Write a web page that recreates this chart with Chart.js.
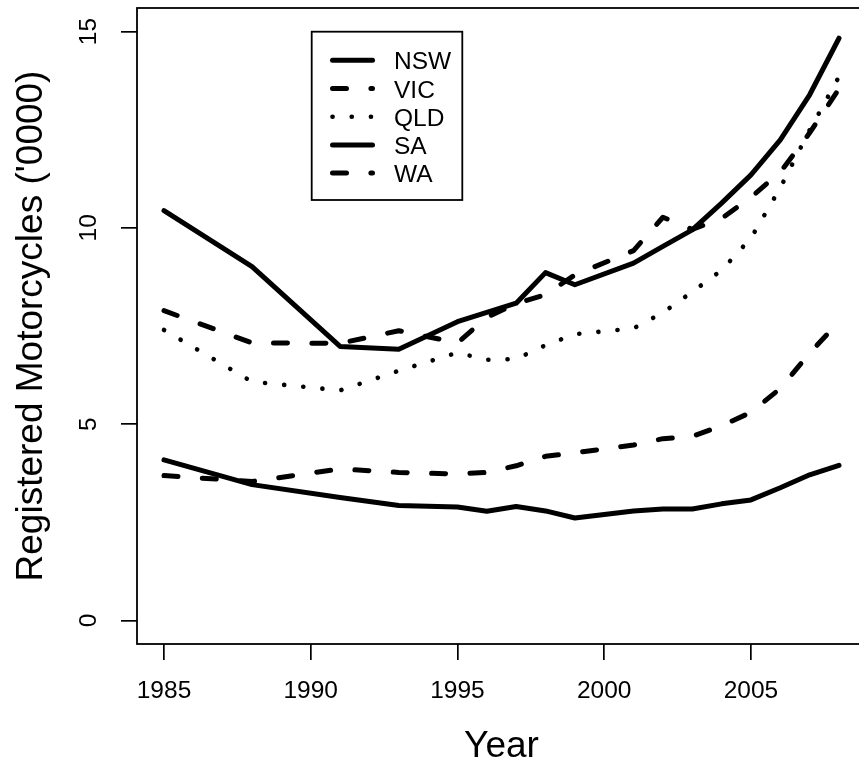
<!DOCTYPE html>
<html>
<head>
<meta charset="utf-8">
<script src="https://cdn.jsdelivr.net/npm/chart.js@4.4.0/dist/chart.umd.min.js"></script>
<style>
html, body { margin: 0; padding: 0; background: #fff; overflow: hidden; }
#wrap { width: 880px; height: 767px; }
</style>
</head>
<body>
<div id="wrap"><canvas id="grafiek" width="880" height="767"></canvas></div>
<script>
// census years (no census in 1986-87, 1989-90, 1992, 1994, 2000)
const jaren = [1985, 1988, 1991, 1993, 1995, 1996, 1997, 1998, 1999, 2001, 2002, 2003, 2004, 2005, 2006, 2007, 2008];
const nsw = [10.44, 9.01, 6.98, 6.91, 7.61, 7.85, 8.08, 8.86, 8.55, 9.10, 9.53, 9.95, 10.63, 11.35, 12.24, 13.39, 14.83];
const vic = [7.89, 7.07, 7.06, 7.38, 7.07, 7.72, 8.07, 8.30, 8.80, 9.42, 10.27, 9.96, 10.24, 10.78, 11.42, 12.42, 13.54];
const qld = [7.40, 6.08, 5.86, 6.36, 6.82, 6.64, 6.66, 7.01, 7.29, 7.44, 7.84, 8.37, 8.92, 9.74, 11.02, 12.49, 13.85];
const sa = [4.09, 3.46, 3.13, 2.93, 2.89, 2.78, 2.90, 2.79, 2.61, 2.79, 2.84, 2.84, 2.97, 3.07, 3.38, 3.71, 3.95];
const wa = [3.69, 3.54, 3.86, 3.77, 3.73, 3.77, 3.94, 4.18, 4.27, 4.47, 4.63, 4.69, 4.96, 5.30, 5.91, 6.81, 7.61];

const xTicks = [1985, 1990, 1995, 2000, 2005];
const yTicks = [0, 5, 10, 15];

const lettertype = "'Liberation Sans', Arial, Helvetica, sans-serif";
Chart.defaults.font.family = lettertype;
Chart.defaults.color = "#000";

const streep = [14, 24.4];
const stip = [0.1, 19.1];

function punten(reeks) {
    return jaren.map((j, i) => ({ x: j, y: reeks[i] }));
}

function lijn(label, reeks, dash, breedte) {
    return {
        label: label,
        data: punten(reeks),
        borderColor: "#000",
        borderWidth: breedte || 5,
        borderDash: dash,
        borderCapStyle: "round",
        borderJoinStyle: "round",
        pointRadius: 0,
        fill: false,
        tension: 0
    };
}

// box round the plot area, like R's box()
const kader = {
    id: "kader",
    afterDraw(chart) {
        const ctx = chart.ctx;
        const a = chart.chartArea;
        ctx.save();
        ctx.strokeStyle = "#000";
        ctx.lineWidth = 1.8;
        ctx.strokeRect(a.left, a.top, a.right - a.left, a.bottom - a.top);
        ctx.restore();
    }
};

// R style legend box inside the plot
const legenda = {
    id: "legenda",
    afterDraw(chart) {
        const ctx = chart.ctx;
        ctx.save();
        ctx.strokeStyle = "#000";
        ctx.lineWidth = 1.8;
        ctx.strokeRect(311.7, 31.7, 150.6, 168.3);
        chart.data.datasets.forEach((ds, i) => {
            const y = 60.3 + i * 28.2;
            ctx.beginPath();
            ctx.setLineDash(ds.borderDash);
            ctx.lineWidth = ds.borderWidth;
            ctx.lineCap = "round";
            ctx.moveTo(332.5, y);
            ctx.lineTo(372.5, y);
            ctx.stroke();
            ctx.setLineDash([]);
            ctx.font = "24.5px " + lettertype;
            ctx.fillStyle = "#000";
            ctx.textBaseline = "alphabetic";
            ctx.fillText(ds.label, 394, y + 9);
        });
        ctx.restore();
    }
};

const rooster = { drawOnChartArea: false, drawTicks: true, tickLength: 16, color: "#000", lineWidth: 1.7 };

const grafiek = new Chart(document.getElementById("grafiek").getContext("2d"), {
    type: "line",
    data: {
        datasets: [
            lijn("NSW", nsw, []),
            lijn("VIC", vic, streep),
            lijn("QLD", qld, stip, 4.6),
            lijn("SA", sa, []),
            lijn("WA", wa, streep)
        ]
    },
    options: {
        responsive: false,
        animation: false,
        devicePixelRatio: 1,
        layout: { padding: { left: 0, top: 8, right: 14, bottom: 0 } },
        plugins: {
            legend: { display: false },
            tooltip: { enabled: false }
        },
        scales: {
            x: {
                type: "linear",
                bounds: "data",
                min: 1984.08,
                max: 2008.92,
                afterBuildTicks: s => { s.ticks = xTicks.map(v => ({ value: v })); },
                afterFit: s => { s.height = 123; s.paddingLeft = 0; s.paddingRight = 0; },
                grid: rooster,
                border: { display: false },
                ticks: {
                    font: { size: 24.5 },
                    padding: 17,
                    maxRotation: 0,
                    autoSkip: false,
                    callback: v => String(v)
                },
                title: {
                    display: true,
                    text: "Year",
                    font: { size: 37, lineHeight: 1 },
                    padding: { top: 0, bottom: 1.3 }
                }
            },
            y: {
                type: "linear",
                bounds: "data",
                min: -0.6,
                max: 15.6,
                afterBuildTicks: s => { s.ticks = yTicks.map(v => ({ value: v })); },
                afterFit: s => { s.width = 137; s.paddingTop = 0; s.paddingBottom = 0; },
                grid: rooster,
                border: { display: false },
                ticks: {
                    font: { size: 24.5 },
                    padding: 17.7,
                    minRotation: 90,
                    maxRotation: 90,
                    crossAlign: "center",
                    callback: v => String(v)
                },
                title: {
                    display: true,
                    text: "Registered Motorcycles ('0000)",
                    font: { size: 37, lineHeight: 1 },
                    padding: { top: 13.2, bottom: 0 }
                }
            }
        }
    },
    plugins: [kader, legenda]
});
</script>
</body>
</html>
